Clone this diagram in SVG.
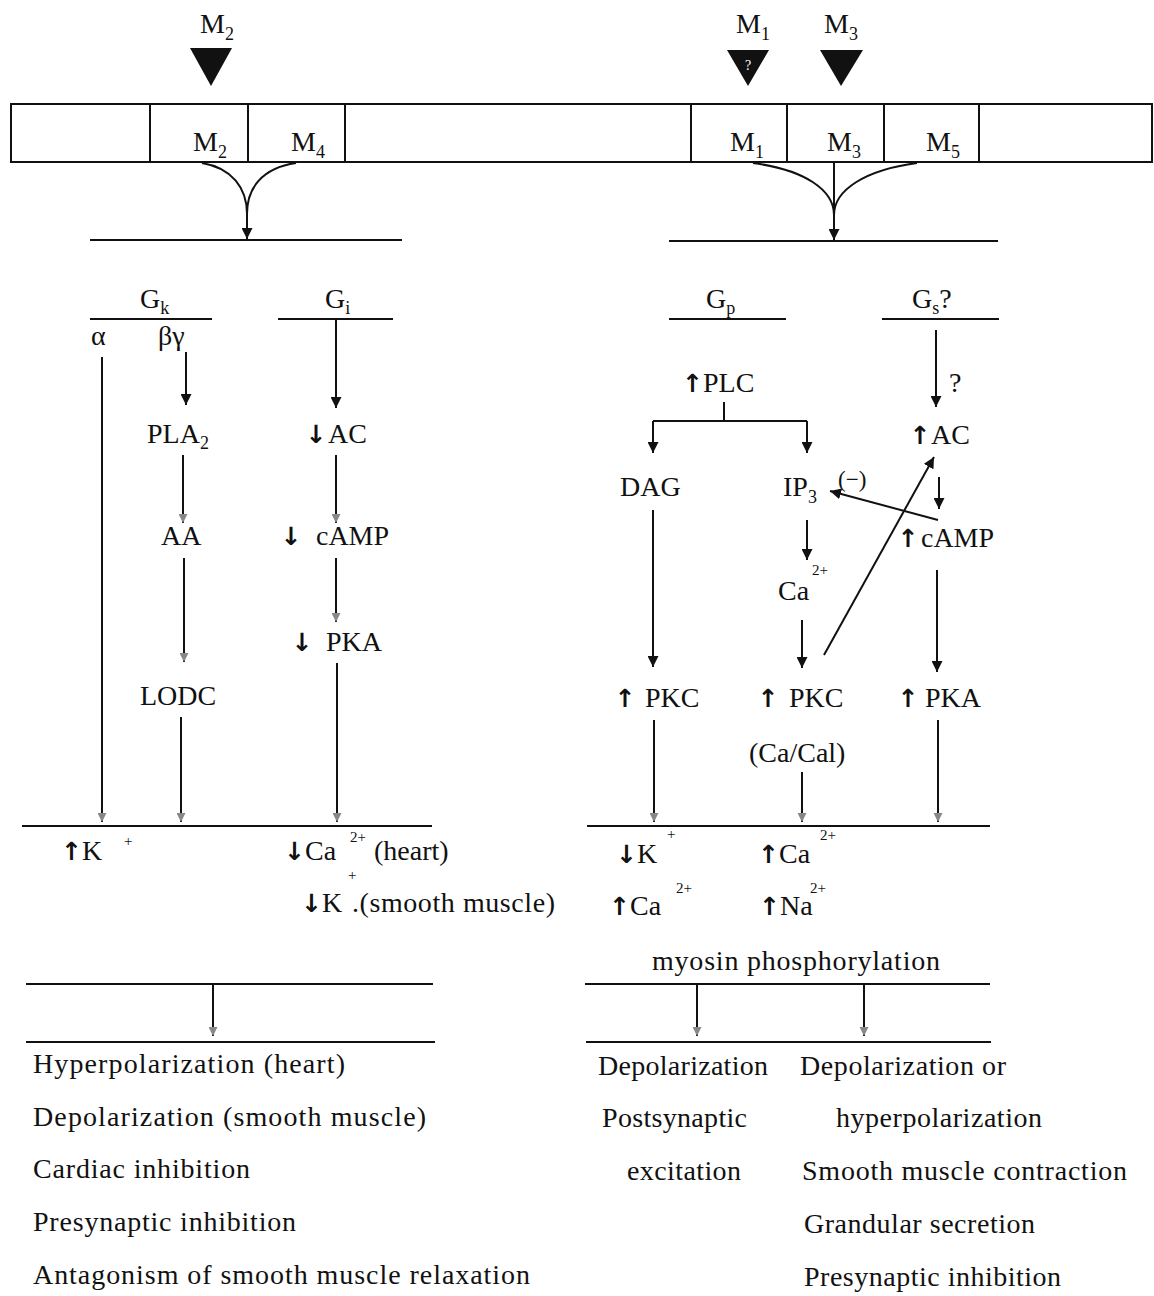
<svg xmlns="http://www.w3.org/2000/svg" width="1154" height="1296" viewBox="0 0 1154 1296">
<style>
text{font-family:"Liberation Serif","Times New Roman",serif;font-size:28px;fill:#111}
.sub{font-size:18px}
.sup{font-size:15px}
.sm{font-size:23px}
.ar{font-family:"DejaVu Sans",sans-serif;font-size:25px;font-weight:bold}
.ln{stroke:#111;stroke-width:2;fill:none}
.bar{stroke:#111;stroke-width:2;fill:none}
.tri{fill:#111}
</style>
<defs>
<marker id="ah" viewBox="0 0 10 10" refX="10" refY="5" markerWidth="11" markerHeight="11" markerUnits="userSpaceOnUse" orient="auto"><path d="M0,0 L10,5 L0,10 z" fill="#111"/></marker>
<marker id="af" viewBox="0 0 10 10" refX="10" refY="5" markerWidth="9" markerHeight="9" markerUnits="userSpaceOnUse" orient="auto"><path d="M0,0 L10,5 L0,10 z" fill="#888"/></marker>
</defs>
<rect width="1154" height="1296" fill="#fff"/>

<g id="ligand-M2"><text x="200" y="33">M<tspan class="sub" dy="7">2</tspan></text><polygon class="tri" points="190,48 232,48 211,86"/></g>
<g id="ligand-M1"><text x="736" y="33">M<tspan class="sub" dy="7">1</tspan></text><polygon class="tri" points="727,50 769,50 748,86"/><text x="748" y="70" text-anchor="middle" style="fill:#fff;font-size:14px">?</text></g>
<g id="ligand-M3"><text x="824" y="33">M<tspan class="sub" dy="7">3</tspan></text><polygon class="tri" points="820,50 863,50 841,86"/></g>

<g id="membrane">
<rect x="11" y="104" width="1141" height="58" class="bar"/>
<path class="bar" d="M150,104 V162 M248,104 V162 M345,104 V162 M691,104 V162 M787,104 V162 M884,104 V162 M979,104 V162"/>
<text x="193" y="151">M<tspan class="sub" dy="7">2</tspan></text>
<text x="291" y="151">M<tspan class="sub" dy="7">4</tspan></text>
<text x="730" y="151">M<tspan class="sub" dy="7">1</tspan></text>
<text x="827" y="151">M<tspan class="sub" dy="7">3</tspan></text>
<text x="926" y="151">M<tspan class="sub" dy="7">5</tspan></text>
</g>

<g id="bars">
<path class="bar" d="M90,240 H402 M669,241 H998"/>
<path class="bar" d="M90,319 H212 M278,319 H393 M669,319 H786 M882,319 H999"/>
<path class="bar" d="M22,826 H432 M587,826 H990"/>
<path class="bar" d="M26,984 H433 M26,1042 H435 M585,984 H990 M586,1042 H991"/>
</g>

<g id="connectors">
<path class="ln" d="M202,163 C232,168 247,188 247,214 M296,163 C262,168 247,188 247,214"/>
<path class="ln" d="M247,212 V239" marker-end="url(#ah)"/>
<path class="ln" d="M753,163 C805,170 834,190 834,215 M917,163 C865,170 834,190 834,215"/>
<path class="ln" d="M834,163 V240" marker-end="url(#ah)"/>
<path class="ln" d="M102,357 V822" marker-end="url(#af)"/>
<path class="ln" d="M186,352 V405" marker-end="url(#ah)"/>
<path class="ln" d="M183,455 V523" marker-end="url(#af)"/>
<path class="ln" d="M184,558 V662" marker-end="url(#af)"/>
<path class="ln" d="M181,717 V822" marker-end="url(#af)"/>
<path class="ln" d="M336,319 V408" marker-end="url(#ah)"/>
<path class="ln" d="M336,455 V523" marker-end="url(#af)"/>
<path class="ln" d="M336,558 V622" marker-end="url(#af)"/>
<path class="ln" d="M337,663 V822" marker-end="url(#af)"/>
<path class="ln" d="M724,402 V421 M653,421 H807"/>
<path class="ln" d="M653,421 V453" marker-end="url(#ah)"/>
<path class="ln" d="M807,421 V453" marker-end="url(#ah)"/>
<path class="ln" d="M936,330 V407" marker-end="url(#ah)"/>
<path class="ln" d="M653,510 V667" marker-end="url(#ah)"/>
<path class="ln" d="M807,520 V560" marker-end="url(#ah)"/>
<path class="ln" d="M802,620 V668" marker-end="url(#ah)"/>
<path class="ln" d="M939,477 V509" marker-end="url(#ah)"/>
<path class="ln" d="M937,570 V672" marker-end="url(#ah)"/>
<path class="ln" d="M824,655 L934,457" marker-end="url(#ah)"/>
<path class="ln" d="M938,520 L830,491" marker-end="url(#ah)"/>
<path class="ln" d="M654,720 V822" marker-end="url(#af)"/>
<path class="ln" d="M802,772 V822" marker-end="url(#af)"/>
<path class="ln" d="M938,720 V822" marker-end="url(#af)"/>
<path class="ln" d="M213,984 V1036" marker-end="url(#af)"/>
<path class="ln" d="M697,984 V1036" marker-end="url(#af)"/>
<path class="ln" d="M864,984 V1036" marker-end="url(#af)"/>
</g>

<g id="Gk"><text x="140" y="308">G<tspan class="sub" dy="6">k</tspan></text></g>
<g id="Gi"><text x="325" y="308">G<tspan class="sub" dy="6">i</tspan></text></g>
<g id="Gp"><text x="706" y="308">G<tspan class="sub" dy="6">p</tspan></text></g>
<g id="Gs"><text x="912" y="308">G<tspan class="sub" dy="6">s</tspan><tspan dy="-6">?</tspan></text></g>
<g id="alpha"><text x="91" y="345">α</text></g>
<g id="betagamma"><text x="158" y="345">βγ</text></g>
<g id="PLA2"><text x="147" y="443">PLA<tspan class="sub" dy="6">2</tspan></text></g>
<g id="AA"><text x="161" y="545">AA</text></g>
<g id="LODC"><text x="140" y="705">LODC</text></g>
<g id="AC-down"><text x="305.5" y="443"><tspan class="ar">↓</tspan><tspan dx="1.5">AC</tspan></text></g>
<g id="cAMP-down"><text x="280.5" y="545"><tspan class="ar">↓</tspan><tspan dx="14.5">cAMP</tspan></text></g>
<g id="PKA-down"><text x="291.5" y="651"><tspan class="ar">↓</tspan><tspan dx="13.5">PKA</tspan></text></g>

<g id="PLC"><text x="682" y="392"><tspan class="ar">↑</tspan><tspan dx="0">PLC</tspan></text></g>
<g id="DAG"><text x="620" y="496">DAG</text></g>
<g id="IP3"><text x="783" y="496">IP<tspan class="sub" dy="7">3</tspan></text></g>
<g id="minus"><text class="sm" x="838" y="487">(−)</text></g>
<g id="Ca"><text x="778" y="600">Ca</text><text class="sup" x="812" y="575">2+</text></g>
<g id="q"><text x="949" y="392">?</text></g>
<g id="AC-up"><text x="909.5" y="444"><tspan class="ar">↑</tspan><tspan dx="0.5">AC</tspan></text></g>
<g id="cAMP-up"><text x="897.5" y="547"><tspan class="ar">↑</tspan><tspan dx="2.5">cAMP</tspan></text></g>
<g id="PKC-1"><text x="614.5" y="707"><tspan class="ar">↑</tspan><tspan dx="9.5">PKC</tspan></text></g>
<g id="PKC-2"><text x="757.5" y="707"><tspan class="ar">↑</tspan><tspan dx="10.5">PKC</tspan></text></g>
<g id="PKA-up"><text x="897.5" y="707"><tspan class="ar">↑</tspan><tspan dx="6.5">PKA</tspan></text></g>
<g id="CaCal"><text x="749" y="762">(Ca/Cal)</text></g>

<g id="ions-left">
<text x="61" y="860"><tspan class="ar">↑</tspan><tspan dx="0">K</tspan></text><text class="sup" x="124" y="846">+</text>
<text x="284" y="860"><tspan class="ar">↓</tspan><tspan dx="0">Ca</tspan></text><text class="sup" x="350" y="842">2+</text><text x="374" y="860">(heart)</text>
<text x="301" y="912"><tspan class="ar">↓</tspan><tspan dx="0">K</tspan></text><text class="sup" x="348" y="880">+</text><text x="352" y="912" textLength="203">.(smooth muscle)</text>
</g>
<g id="ions-right">
<text x="616" y="863"><tspan class="ar">↓</tspan><tspan dx="0">K</tspan></text><text class="sup" x="667" y="839">+</text>
<text x="758" y="863"><tspan class="ar">↑</tspan><tspan dx="0">Ca</tspan></text><text class="sup" x="820" y="840">2+</text>
<text x="609" y="915"><tspan class="ar">↑</tspan><tspan dx="0">Ca</tspan></text><text class="sup" x="676" y="893">2+</text>
<text x="759" y="915"><tspan class="ar">↑</tspan><tspan dx="0">Na</tspan></text><text class="sup" x="810" y="893">2+</text>
<text x="652" y="970" textLength="288">myosin phosphorylation</text>
</g>

<g id="effects-left">
<text x="33" y="1073" textLength="312">Hyperpolarization (heart)</text>
<text x="33" y="1126" textLength="393">Depolarization (smooth muscle)</text>
<text x="33" y="1178" textLength="217">Cardiac inhibition</text>
<text x="33" y="1231" textLength="263">Presynaptic inhibition</text>
<text x="33" y="1284" textLength="497">Antagonism of smooth muscle relaxation</text>
</g>
<g id="effects-right">
<text x="598" y="1075" textLength="170">Depolarization</text>
<text x="800" y="1075" textLength="206">Depolarization or</text>
<text x="602" y="1127" textLength="145">Postsynaptic</text>
<text x="836" y="1127" textLength="206">hyperpolarization</text>
<text x="627" y="1180" textLength="114">excitation</text>
<text x="802" y="1180" textLength="325">Smooth muscle contraction</text>
<text x="804" y="1233" textLength="231">Grandular secretion</text>
<text x="804" y="1286" textLength="257">Presynaptic inhibition</text>
</g>
</svg>
